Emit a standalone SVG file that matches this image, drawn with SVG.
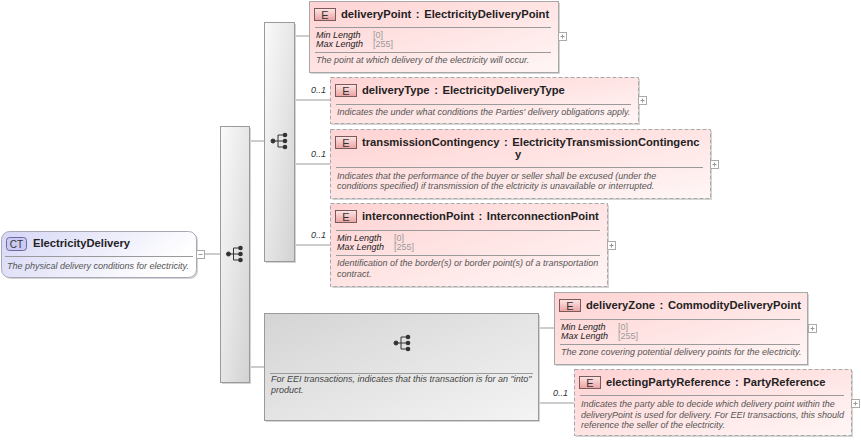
<svg xmlns="http://www.w3.org/2000/svg" width="861" height="444" viewBox="0 0 861 444">
<style>
text{font-family:"Liberation Sans",Arial,sans-serif}
.shadow{fill:#d4d4d4}
.ebox{fill:url(#eg);stroke:#a8a8a8;stroke-width:1}
.opt{stroke-dasharray:4,2}
.badge{fill:url(#bg);stroke:#7a5a5a;stroke-width:1}
.bt{font-size:11px;fill:#333;text-anchor:middle}
.title{font-size:11.2px;font-weight:bold;fill:#222;word-spacing:1.5px}
.desc{font-size:9px;font-style:italic;fill:#555}
.fl{font-size:9px;font-style:italic;fill:#222}
.fv{font-size:9px;fill:#9a9a9a}
.sep{stroke:#9a9a9a;stroke-width:1}
.conn{stroke:#9a9a9a;stroke-width:1;fill:none}
.card{font-size:9px;font-style:italic;fill:#333;text-anchor:end}
.pm{fill:#fff;stroke:#aaa;stroke-width:1}
.pml{stroke:#999;stroke-width:1}
.seq{fill:url(#sg);stroke:#9a9a9a;stroke-width:1}
.sym{fill:#333;stroke:#333}
</style>
<defs>
<linearGradient id="eg" x1="0" y1="0" x2="1" y2="1"><stop offset="0" stop-color="#ffd2d2"/><stop offset="1" stop-color="#fff6f6"/></linearGradient>
<linearGradient id="bg" x1="0" y1="0" x2="0" y2="1"><stop offset="0" stop-color="#fde6e6"/><stop offset="1" stop-color="#eba2a2"/></linearGradient>
<linearGradient id="sg" x1="0" y1="0" x2="1" y2="1"><stop offset="0" stop-color="#fafafa"/><stop offset="1" stop-color="#d2d2d2"/></linearGradient>
<linearGradient id="gg" x1="0" y1="0" x2="1" y2="1"><stop offset="0" stop-color="#d4d4d4"/><stop offset="1" stop-color="#f4f4f4"/></linearGradient>
<linearGradient id="rg" x1="0" y1="0" x2="1" y2="0.3"><stop offset="0" stop-color="#d6d6f6"/><stop offset="1" stop-color="#ffffff"/></linearGradient>
<g id="seqsym" class="sym">
<circle cx="-6" cy="0" r="2"/>
<path d="M-6 0H-1M-1 -6V6M-1 -6H5M-1 0H5M-1 6H5" fill="none" stroke-width="1"/>
<circle cx="6" cy="-6" r="2.3" stroke="none"/>
<circle cx="6" cy="0" r="2.3" stroke="none"/>
<circle cx="6" cy="6" r="2.3" stroke="none"/>
</g>
</defs>
<rect width="861" height="444" fill="#fff"/>

<g id="connectors">
<path class="conn" d="M205 254H220"/>
<path class="conn" d="M249 141H264"/>
<path class="conn" d="M249 367H264"/>
<path class="conn" d="M294 36H309"/>
<path class="conn" d="M294 100H330"/>
<path class="conn" d="M294 164H330"/>
<path class="conn" d="M294 245H330"/>
<path class="conn" d="M538 328H554"/>
<path class="conn" d="M538 403H574"/>
<text class="card" x="326" y="93">0..1</text>
<text class="card" x="326" y="157">0..1</text>
<text class="card" x="326" y="238">0..1</text>
<text class="card" x="568" y="396">0..1</text>
</g>

<g id="root">
<rect x="3" y="233" width="195" height="46" rx="8" class="shadow"/>
<rect x="1.5" y="231.5" width="195" height="46" rx="8" fill="url(#rg)" stroke="#a8a8b8"/>
<rect x="6.5" y="237.5" width="20" height="13" rx="3" fill="#cacaf2" stroke="#6a6aa0"/>
<text x="16.5" y="247.5" font-size="10" fill="#333" text-anchor="middle">CT</text>
<text class="title" x="33" y="247">ElectricityDelivery</text>
<line class="sep" x1="5" y1="256.5" x2="193" y2="256.5"/>
<text class="desc" x="7" y="268.5">The physical delivery conditions for electricity.</text>
<rect class="pm" x="196.5" y="250.5" width="8" height="8"/>
<line class="pml" x1="198.5" y1="254.5" x2="202.5" y2="254.5"/>
</g>

<g id="seqOuter">
<rect x="222" y="128" width="29" height="256" class="shadow"/>
<rect x="220.5" y="126.5" width="29" height="256" class="seq"/>
<use href="#seqsym" x="234.5" y="254"/>
</g>

<g id="seqInner">
<rect x="266" y="24" width="30" height="239" class="shadow"/>
<rect x="264.5" y="22.5" width="30" height="239" class="seq"/>
<use href="#seqsym" x="279" y="141"/>
</g>

<g id="group">
<rect x="266" y="315" width="274" height="107" class="shadow"/>
<rect x="264.5" y="313.5" width="274" height="107" fill="url(#gg)" stroke="#9a9a9a"/>
<use href="#seqsym" x="402" y="343"/>
<line class="sep" x1="270" y1="373.5" x2="533" y2="373.5"/>
<text class="desc" style="fill:#444"><tspan x="271" y="382">For EEI transactions, indicates that this transaction is for an "into"</tspan><tspan x="271" y="392.5">product.</tspan></text>
</g>

<g id="deliveryPoint">
<rect x="311" y="3" width="249" height="71" class="shadow"/>
<rect x="309.5" y="1.5" width="249" height="71" class="ebox"/>
<rect x="314.5" y="8.5" width="21" height="12" class="badge"/>
<text class="bt" x="325" y="18.5">E</text>
<text class="title" x="341" y="18">deliveryPoint : ElectricityDeliveryPoint</text>
<line class="sep" x1="315" y1="27.5" x2="551" y2="27.5"/>
<text class="fl" x="316" y="38">Min Length</text>
<text class="fl" x="316" y="47">Max Length</text>
<text class="fv" x="373" y="38">[0]</text>
<text class="fv" x="373" y="47">[255]</text>
<line class="sep" x1="315" y1="52.5" x2="551" y2="52.5"/>
<text class="desc" x="316" y="63">The point at which delivery of the electricity will occur.</text>
<rect class="pm" x="558.5" y="32.5" width="8" height="8"/>
<path class="pml" d="M560.5 36.5H564.5M562.5 34.5V38.5"/>
</g>

<g id="deliveryType">
<rect x="332" y="79" width="308" height="46" class="shadow"/>
<rect x="330.5" y="77.5" width="308" height="46" class="ebox opt"/>
<rect x="335.5" y="84.5" width="21" height="12" class="badge"/>
<text class="bt" x="346" y="94.5">E</text>
<text class="title" x="362" y="94">deliveryType : ElectricityDeliveryType</text>
<line class="sep" x1="336" y1="104.5" x2="631" y2="104.5"/>
<text class="desc" x="337" y="115">Indicates the under what conditions the Parties' delivery obligations apply.</text>
<rect class="pm" x="638.5" y="96.5" width="8" height="8"/>
<path class="pml" d="M640.5 100.5H644.5M642.5 98.5V102.5"/>
</g>

<g id="transmissionContingency">
<rect x="332" y="131" width="380" height="69" class="shadow"/>
<rect x="330.5" y="129.5" width="380" height="69" class="ebox opt"/>
<rect x="335.5" y="136.5" width="21" height="12" class="badge"/>
<text class="bt" x="346" y="146.5">E</text>
<text class="title" x="362" y="146">transmissionContingency : ElectricityTransmissionContingenc</text>
<text class="title" x="515" y="158">y</text>
<line class="sep" x1="336" y1="167.5" x2="703" y2="167.5"/>
<text class="desc"><tspan x="337" y="178.5">Indicates that the performance of the buyer or seller shall be excused (under the</tspan><tspan x="337" y="189">conditions specified) if transmission of the elctricity is unavailable or interrupted.</tspan></text>
<rect class="pm" x="710.5" y="160.5" width="8" height="8"/>
<path class="pml" d="M712.5 164.5H716.5M714.5 162.5V166.5"/>
</g>

<g id="interconnectionPoint">
<rect x="332" y="205" width="277" height="83" class="shadow"/>
<rect x="330.5" y="203.5" width="277" height="83" class="ebox opt"/>
<rect x="335.5" y="210.5" width="21" height="12" class="badge"/>
<text class="bt" x="346" y="220.5">E</text>
<text class="title" x="362" y="220">interconnectionPoint : InterconnectionPoint</text>
<line class="sep" x1="336" y1="230.5" x2="600" y2="230.5"/>
<text class="fl" x="337" y="241">Min Length</text>
<text class="fl" x="337" y="250">Max Length</text>
<text class="fv" x="394" y="241">[0]</text>
<text class="fv" x="394" y="250">[255]</text>
<line class="sep" x1="336" y1="255.5" x2="600" y2="255.5"/>
<text class="desc"><tspan x="337" y="266">Identification of the border(s) or border point(s) of a transportation</tspan><tspan x="337" y="276.5">contract.</tspan></text>
<rect class="pm" x="607.5" y="241.5" width="8" height="8"/>
<path class="pml" d="M609.5 245.5H613.5M611.5 243.5V247.5"/>
</g>

<g id="deliveryZone">
<rect x="556" y="294" width="253" height="72" class="shadow"/>
<rect x="554.5" y="292.5" width="253" height="72" class="ebox"/>
<rect x="559.5" y="299.5" width="21" height="12" class="badge"/>
<text class="bt" x="570" y="309.5">E</text>
<text class="title" x="586" y="309">deliveryZone : CommodityDeliveryPoint</text>
<line class="sep" x1="560" y1="319.5" x2="800" y2="319.5"/>
<text class="fl" x="561" y="330">Min Length</text>
<text class="fl" x="561" y="339">Max Length</text>
<text class="fv" x="618" y="330">[0]</text>
<text class="fv" x="618" y="339">[255]</text>
<line class="sep" x1="560" y1="344.5" x2="800" y2="344.5"/>
<text class="desc" x="561" y="355">The zone covering potential delivery points for the electricity.</text>
<rect class="pm" x="808.5" y="324.5" width="8" height="8"/>
<path class="pml" d="M810.5 328.5H814.5M812.5 326.5V330.5"/>
</g>

<g id="electingPartyReference">
<rect x="576" y="371" width="277" height="66" class="shadow"/>
<rect x="574.5" y="369.5" width="277" height="66" class="ebox opt"/>
<rect x="579.5" y="376.5" width="21" height="12" class="badge"/>
<text class="bt" x="590" y="386.5">E</text>
<text class="title" x="606" y="386">electingPartyReference : PartyReference</text>
<line class="sep" x1="580" y1="395.5" x2="844" y2="395.5"/>
<text class="desc"><tspan x="581" y="407">Indicates the party able to decide which delivery point within the</tspan><tspan x="581" y="417.5">deliveryPoint is used for delivery. For EEI transactions, this should</tspan><tspan x="581" y="428">reference the seller of the electricity.</tspan></text>
<rect class="pm" x="851.5" y="399.5" width="8" height="8"/>
<path class="pml" d="M853.5 403.5H857.5M855.5 401.5V405.5"/>
</g>
</svg>
